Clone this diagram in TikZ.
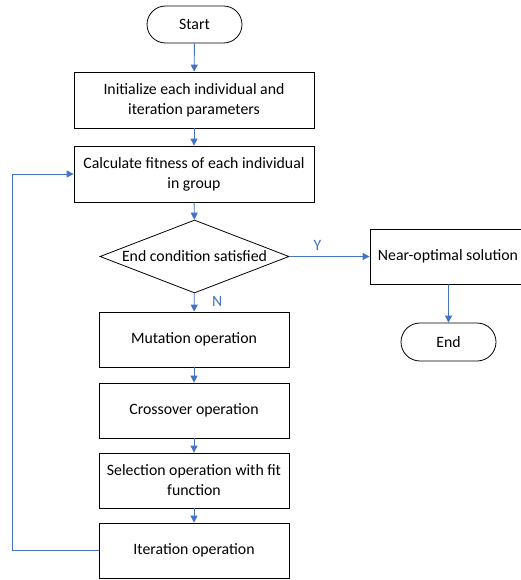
\documentclass[tikz,border=0pt]{standalone}
\usepackage{fontspec}
\setmainfont{Carlito}
\usetikzlibrary{shapes.geometric,shapes.misc,arrows.meta}
\definecolor{lineblue}{HTML}{4472C4}
\tikzset{
  x=1pt,y=-1pt,
  every node/.style={font=\fontsize{15.8}{20}\selectfont, text=black},
  procbox/.style={draw=black, line width=0.8pt, rectangle, align=center, inner sep=0pt},
  termbox/.style={draw=black, line width=0.8pt, rounded rectangle, inner sep=0pt},
  decbox/.style={draw=black, line width=0.8pt, diamond, aspect=2.6, inner sep=0pt},
  flow/.style={draw=lineblue, line width=0.9pt, -{Triangle[length=7pt,width=7pt]}},
  lbl/.style={text=lineblue}
}
\begin{document}
\begin{tikzpicture}
\useasboundingbox (0,0) rectangle (520,580);
\node[termbox, minimum width=95pt, minimum height=37pt] (start) at (194.5,24.5) {Start};
\node[procbox, minimum width=240pt, minimum height=56pt] (init) at (194,100) {Initialize each individual and\\iteration parameters};
\node[procbox, minimum width=240pt, minimum height=56pt] (calc) at (194,174) {Calculate fitness of each individual\\in group};
\node[decbox, minimum width=189pt, minimum height=73pt] (cond) at (194.5,256.5) {};
\node at (cond.center) {End condition satisfied};
\node[procbox, minimum width=156pt, minimum height=55pt] (near) at (448,256.5) {Near-optimal solution};
\node[termbox, minimum width=95pt, minimum height=38pt] (end) at (448.5,342) {End};
\node[procbox, minimum width=190pt, minimum height=55pt] (mut) at (194,339.5) {Mutation operation};
\node[procbox, minimum width=190pt, minimum height=55pt] (cross) at (194,410.5) {Crossover operation};
\node[procbox, minimum width=190pt, minimum height=55pt] (sel) at (194,480.5) {Selection operation with fit\\function};
\node[procbox, minimum width=190pt, minimum height=55pt] (iter) at (194,550.5) {Iteration operation};
\coordinate (lb) at (12,550.5);
\coordinate (lt) at (12,174);
\draw[flow] (start) -- (init);
\draw[flow] (init) -- (calc);
\draw[flow] (calc) -- (cond);
\draw[flow] (cond) -- node[lbl, above, pos=0.35, yshift=2pt] {Y} (near);
\draw[flow] (cond) -- node[lbl, right, pos=0.45, xshift=14pt] {N} (mut);
\draw[flow] (near.south -| end.north) -- (end);
\draw[flow] (mut) -- (cross);
\draw[flow] (cross) -- (sel);
\draw[flow] (sel) -- (iter);
\draw[flow] (iter.west) -- (lb) -- (lt) -- (calc.west);
\end{tikzpicture}
\end{document}
